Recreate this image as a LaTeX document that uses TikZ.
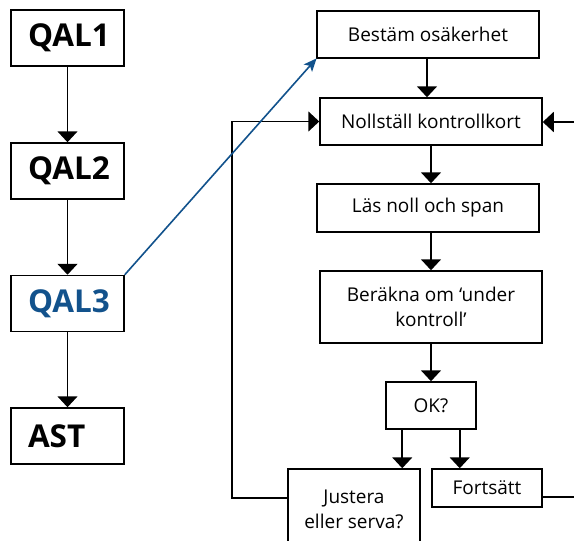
\documentclass[tikz,border=0pt]{standalone}
\usepackage{fontspec}
\setmainfont{Open Sans}
\usetikzlibrary{arrows.meta}
\definecolor{qblue}{RGB}{18,82,140}
\tikzset{
  qbox/.style={draw=black, line width=1.5pt, font=\fontsize{31.5}{34}\selectfont\bfseries, text width=79pt, align=left, inner xsep=17pt, minimum height=56pt, inner ysep=0pt},
  sbox/.style={draw=black, line width=1.5pt, font=\fontsize{19}{25}\selectfont, align=center, inner sep=0pt},
  arr/.style={line width=1.8pt, -{Triangle[width=20pt,length=11pt]}},
  plain/.style={line width=1.8pt},
  barr/.style={line width=1.6pt, draw=qblue, -{Stealth[width=11pt,length=13pt,inset=3pt]}, shorten >=-0.5pt}
}
\begin{document}
\begin{tikzpicture}[x=1pt,y=-1pt]
\clip (0,0) rectangle (574,541);
\useasboundingbox (0,0) rectangle (574,541);
% left column
\node[qbox] (q1) at (67.5,38) {QAL1};
\node[qbox] (q2) at (67.5,171) {QAL2};
\node[qbox, text=qblue] (q3) at (67.5,303.5) {QAL3};
\node[qbox] (ast) at (67.5,436) {AST};
\draw[arr] (q1) -- (q2);
\draw[arr] (q2) -- (q3);
\draw[arr] (q3) -- (ast);
% right column
\node[sbox, minimum width=222pt, minimum height=47pt] (b) at (428,34.5) {Bestäm osäkerhet};
\node[sbox, minimum width=222pt, minimum height=47pt] (n) at (431,121.5) {Nollställ kontrollkort};
\node[sbox, minimum width=222pt, minimum height=48pt] (l) at (428,208) {Läs noll och span};
\node[sbox, minimum width=222pt, minimum height=72pt] (c) at (431,307) {Beräkna om ‘under\\kontroll’};
\node[sbox, minimum width=90pt, minimum height=47pt] (ok) at (431,405.5) {OK?};
\node[sbox, minimum width=132pt, minimum height=80pt] (j) at (354,509) {Justera\\eller serva?};
\node[sbox, minimum width=110pt, minimum height=38pt] (f) at (487,488) {Fortsätt};
\draw[arr] (b.south -| 427,0) -- (n.north -| 427,0);
\draw[arr] (n.south) -- (n.south |- l.north);
\draw[arr] (c.north |- l.south) -- (c.north);
\draw[arr] (c.south) -- (ok.north);
\draw[arr] ([xshift=17pt]ok.south west) -- ([xshift=17pt]ok.south west |- j.north);
\draw[arr] ([xshift=-17pt]ok.south east) -- ([xshift=-17pt]ok.south east |- f.north);
% feedback loops
\coordinate (rin) at (574,122);
\coordinate (rout) at (574,497);
\coordinate (lc) at (232,498);
\draw[arr] (rin) -- (rin -| n.east);
\draw[plain] ([yshift=-9pt]f.east) -- (rout);
\draw[arr] (lc -| j.west) -- (lc) |- (n.west);
% blue link
\draw[barr] (q3.north east) -- (b.south west);
\end{tikzpicture}
\end{document}
